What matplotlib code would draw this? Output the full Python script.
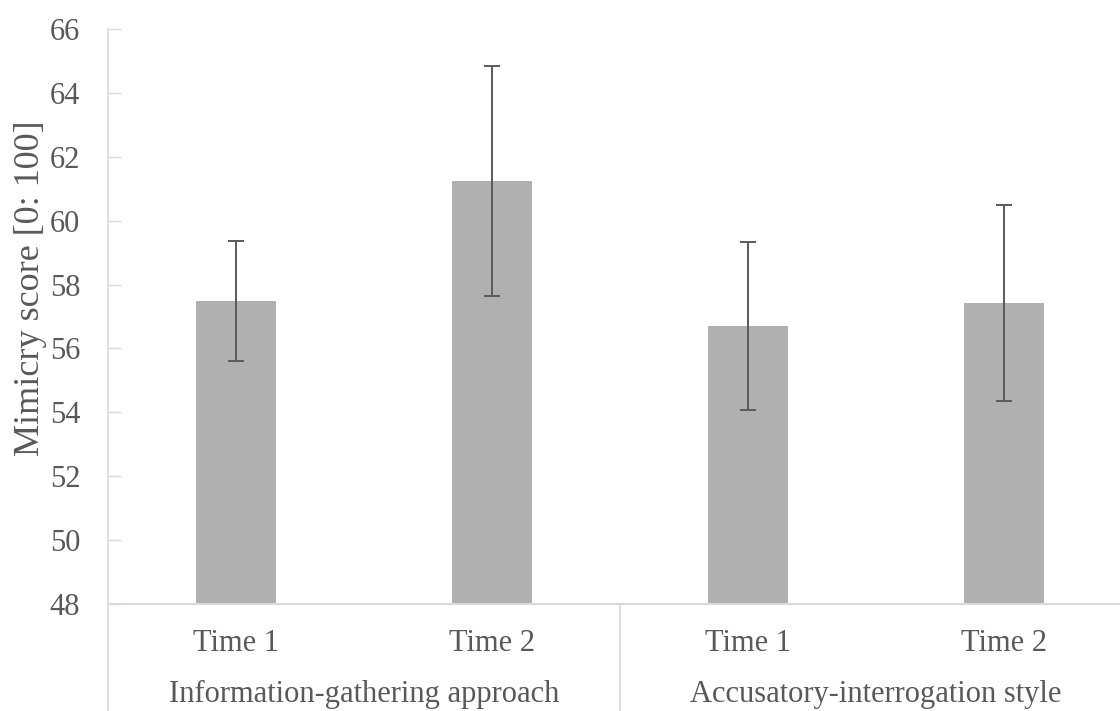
import numpy as np
import matplotlib
matplotlib.use("Agg")
import matplotlib.pyplot as plt
import matplotlib.transforms as mtransforms

# data
groups = ["Information-gathering approach", "Accusatory-interrogation style"]
times = ["Time 1", "Time 2", "Time 1", "Time 2"]
scores = [57.48, 61.23, 56.70, 57.41]
errors = [1.87, 3.60, 2.63, 3.07]

plt.rcParams["font.family"] = ["Liberation Serif", "DejaVu Serif"]
text_col = "#595959"
axis_col = "#D9D9D9"

fig = plt.figure(figsize=(11.2, 7.11), dpi=100)
ax = fig.add_axes([108 / 1120, 107 / 711, 1024 / 1120, 575 / 711])

x = np.arange(len(scores))
ax.bar(x, scores, width=0.31, bottom=0, color="#B0B0B0", zorder=2)
ax.errorbar(x, scores, yerr=errors, fmt="none", ecolor="#5A5A5A",
            elinewidth=1.4, capsize=6, capthick=1.4, zorder=3)

ax.set_xlim(-0.5, 3.5)
ax.set_ylim(48, 66)
ax.set_yticks(np.arange(48, 67, 2))
ax.tick_params(axis="y", direction="in", length=9, width=1, color=axis_col,
               labelsize=22, labelcolor=text_col, pad=20)
ax.set_xticks([])

for side in ["top", "right"]:
    ax.spines[side].set_visible(False)
ax.spines["left"].set_color(axis_col)
ax.spines["left"].set_linewidth(1.2)
ax.spines["bottom"].set_color(axis_col)
ax.spines["bottom"].set_linewidth(1.5)

ax.set_ylabel("Mimicry score [0: 100]", fontsize=26, color=text_col, labelpad=2)
ax.yaxis.label.set_y(0.55)

# multi-level category axis
trans = mtransforms.blended_transform_factory(ax.transData, ax.transAxes)
for xi, t in zip(x, times):
    ax.text(xi, -0.068, t, transform=trans, ha="center", va="center",
            fontsize=22, color=text_col)
for gi, g in enumerate(groups):
    ax.text(gi * 2 + 0.5, -0.158, g, transform=trans, ha="center", va="center",
            fontsize=22, color=text_col)
for sep in [-0.5, 1.5, 3.5]:
    ax.plot([sep, sep], [0, -0.25], transform=trans, color=axis_col,
            lw=1.2, clip_on=False)

fig.savefig("out.png", dpi=100)
